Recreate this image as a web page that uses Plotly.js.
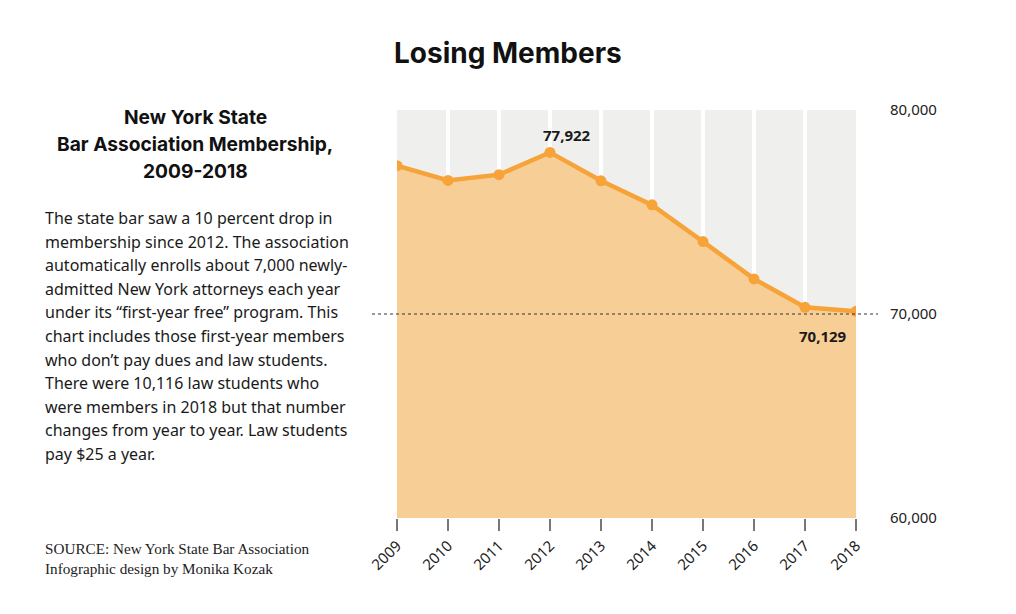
<!DOCTYPE html>
<html>
<head>
<meta charset="utf-8">
<script src="https://cdn.plot.ly/plotly-3.0.1.min.js"></script>
<style>html,body{margin:0;padding:0;background:#fff;}#chart{width:1016px;height:614px;}</style>
</head>
<body>
<div id="chart"></div>
<script>
const years = [2009, 2010, 2011, 2012, 2013, 2014, 2015, 2016, 2017, 2018];
const members = [77270, 76550, 76830, 77922, 76530, 75350, 73550, 71720, 70330, 70129];
const yTicks = [60000, 70000, 80000];
const yTickLabels = ["60,000", "70,000", "80,000"];
const referenceLevel = 70000;
const title = "Losing Members";
const subtitleLines = ["New York State", "Bar Association Membership,", "2009-2018"];
const bodyLines = [
  "The state bar saw a 10 percent drop in",
  "membership since 2012. The association",
  "automatically enrolls about 7,000 newly-",
  "admitted New York attorneys each year",
  "under its \u201cfirst-year free\u201d program. This",
  "chart includes those first-year members",
  "who don\u2019t pay dues and law students.",
  "There were 10,116 law students who",
  "were members in 2018 but that number",
  "changes from year to year. Law students",
  "pay $25 a year."
];
const sourceLines = ["SOURCE: New York State Bar Association", "Infographic design by Monika Kozak"];

const lineColor = "#f6a33a";
const fillColor = "#f7cf96";

const trace = {
  x: years, y: members, type: "scatter", mode: "lines+markers",
  fill: "tozeroy", fillcolor: fillColor,
  line: {color: lineColor, width: 4.5},
  marker: {color: lineColor, size: 11},
  hoverinfo: "x+y"
};

// pixel helpers for free text placement (plot area: x 397..856, y 110..518)
const px = x => (x - 397) / 459;
const py = y => 1 - (y - 110) / 408;

const annotations = [
  {text: "<b>" + title + "</b>", xref: "paper", yref: "paper", x: px(508), y: py(53),
   showarrow: false, xanchor: "center", yanchor: "middle",
   font: {family: "Inter", size: 28, color: "#111", weight: 900}}
];
subtitleLines.forEach((t, i) => annotations.push({
  text: "<b>" + t + "</b>", xref: "paper", yref: "paper", x: px(195), y: py(117 + 27 * i),
  showarrow: false, xanchor: "center", yanchor: "middle",
  font: {family: "Inter", size: 19.2, color: "#111", weight: 900}
}));
bodyLines.forEach((t, i) => annotations.push({
  text: t, xref: "paper", yref: "paper", x: px(43), y: py(218 + 23.6 * i),
  showarrow: false, xanchor: "left", yanchor: "middle", align: "left",
  font: {family: "Noto Sans", size: 16, color: "#1a1a1a"}
}));
sourceLines.forEach((t, i) => annotations.push({
  text: t, xref: "paper", yref: "paper", x: px(43), y: py(548 + 20 * i),
  showarrow: false, xanchor: "left", yanchor: "middle", align: "left",
  font: {family: "Liberation Serif", size: 15.2, color: "#222"}
}));
annotations.push(
  {text: "<b>77,922</b>", x: years[3], y: members[3], xref: "x", yref: "y",
   showarrow: false, xanchor: "center", yanchor: "middle", xshift: 17, yshift: 17,
   font: {family: "Noto Sans", size: 15, color: "#1a1a1a"}},
  {text: "<b>70,129</b>", x: years[9], y: members[9], xref: "x", yref: "y",
   showarrow: false, xanchor: "right", yanchor: "middle", xshift: -7, yshift: -25,
   font: {family: "Noto Sans", size: 15, color: "#1a1a1a"}}
);

const layout = {
  width: 1016, height: 614,
  margin: {l: 397, r: 160, t: 110, b: 96},
  paper_bgcolor: "#ffffff", plot_bgcolor: "#efefed",
  showlegend: false,
  xaxis: {
    range: [years[0], years[years.length-1]], tickvals: years, ticktext: years.map(String),
    tickangle: -45, ticks: "outside", ticklen: 12, tickcolor: "#777", tickwidth: 1.5,
    showgrid: true, gridcolor: "#ffffff", gridwidth: 4, zeroline: false, showline: false,
    tickfont: {family: "Noto Sans", size: 15, color: "#222"}
  },
  yaxis: {
    range: [60000, 80000], side: "right", tickvals: yTicks, ticktext: yTickLabels,
    showgrid: false, zeroline: false, showline: false, ticks: "",
    ticklabelstandoff: 33,
    tickfont: {family: "Noto Sans", size: 15, color: "#222"}
  },
  shapes: [
    {type: "line", xref: "paper", yref: "y", x0: px(372), x1: px(878),
     y0: referenceLevel, y1: referenceLevel, layer: "above",
     line: {color: "#333", width: 1, dash: "dot"}}
  ],
  annotations: annotations
};

Plotly.newPlot("chart", [trace], layout, {displayModeBar: false, staticPlot: true});
</script>
</body>
</html>
